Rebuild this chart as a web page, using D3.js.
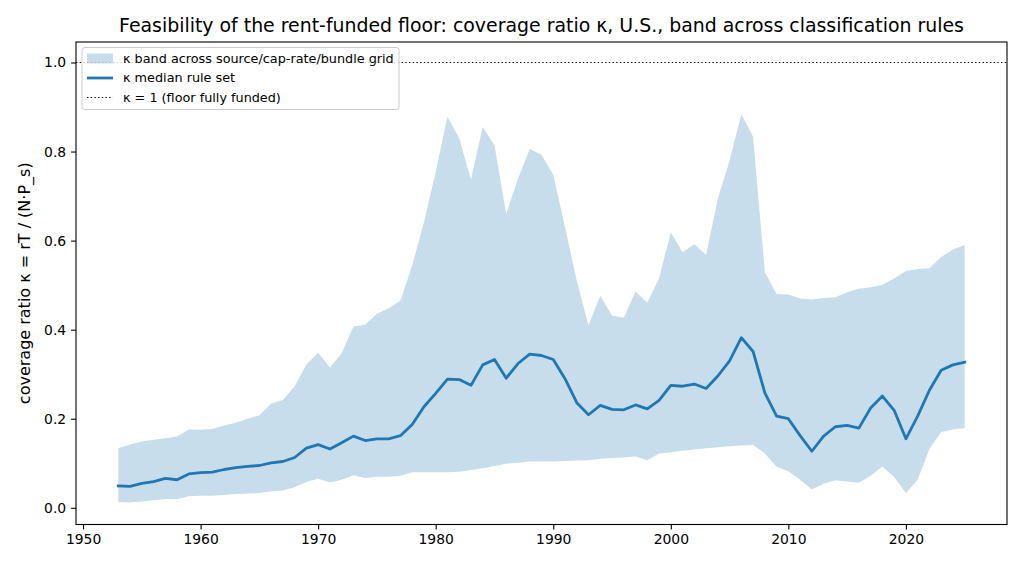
<!DOCTYPE html>
<html>
<head>
<meta charset="utf-8">
<script src="https://cdn.jsdelivr.net/npm/d3@7"></script>
<style>
  body { margin: 0; background: #fff; }
  svg { display: block; font-family: 'DejaVu Sans', sans-serif; }
</style>
</head>
<body>
<div id="chart"></div>
<script>
// years 1953..2025
const years = d3.range(1953, 2026);

const medianK = [
  0.049, 0.048, 0.055, 0.059, 0.066, 0.063, 0.076, 0.079, 0.080, 0.086,
  0.090, 0.093, 0.095, 0.101, 0.104, 0.113, 0.134, 0.142, 0.132, 0.146,
  0.161, 0.151, 0.155, 0.155, 0.162, 0.187, 0.227, 0.257, 0.289, 0.288,
  0.275, 0.321, 0.333, 0.291, 0.324, 0.345, 0.342, 0.333, 0.290, 0.236,
  0.209, 0.230, 0.221, 0.220, 0.231, 0.222, 0.241, 0.275, 0.273, 0.278,
  0.268, 0.296, 0.330, 0.382, 0.351, 0.258, 0.206, 0.200, 0.162, 0.127,
  0.161, 0.182, 0.185, 0.179, 0.224, 0.251, 0.219, 0.155, 0.206, 0.264,
  0.309, 0.321, 0.327
];

const bandHigh = [
  0.134, 0.142, 0.149, 0.153, 0.156, 0.160, 0.176, 0.175, 0.177, 0.185,
  0.191, 0.200, 0.208, 0.234, 0.242, 0.273, 0.322, 0.348, 0.315, 0.347,
  0.407, 0.411, 0.436, 0.448, 0.465, 0.544, 0.641, 0.754, 0.878, 0.830,
  0.737, 0.855, 0.814, 0.660, 0.739, 0.806, 0.793, 0.748, 0.630, 0.510,
  0.410, 0.476, 0.432, 0.427, 0.486, 0.461, 0.515, 0.619, 0.574, 0.592,
  0.568, 0.694, 0.780, 0.884, 0.833, 0.529, 0.480, 0.479, 0.470, 0.468,
  0.471, 0.473, 0.484, 0.492, 0.495, 0.501, 0.515, 0.532, 0.536, 0.538,
  0.563, 0.580, 0.590
];

const bandLow = [
  0.013, 0.012, 0.014, 0.017, 0.020, 0.019, 0.026, 0.027, 0.027, 0.029,
  0.031, 0.032, 0.033, 0.037, 0.039, 0.046, 0.058, 0.065, 0.057, 0.063,
  0.073, 0.067, 0.070, 0.070, 0.072, 0.080, 0.080, 0.080, 0.080, 0.081,
  0.085, 0.089, 0.094, 0.099, 0.101, 0.104, 0.104, 0.104, 0.105, 0.106,
  0.107, 0.110, 0.112, 0.113, 0.115, 0.107, 0.122, 0.125, 0.128, 0.131,
  0.134, 0.136, 0.138, 0.140, 0.141, 0.122, 0.092, 0.082, 0.063, 0.041,
  0.054, 0.062, 0.059, 0.056, 0.072, 0.093, 0.069, 0.033, 0.063, 0.132,
  0.170, 0.176, 0.179
];

const xTicks = [1950, 1960, 1970, 1980, 1990, 2000, 2010, 2020];
const yTicks = [0.0, 0.2, 0.4, 0.6, 0.8, 1.0];
const fullyFunded = 1.0;

const legendLabels = [
  'κ band across source/cap-rate/bundle grid',
  'κ median rule set',
  'κ = 1 (floor fully funded)'
];

const W = 1024, H = 569;
const margin = { top: 42, right: 17, bottom: 44.5, left: 76 };
const width = W - margin.left - margin.right;
const height = H - margin.top - margin.bottom;
const C0 = '#1f77b4';

const rows = years.map((yr, i) => ({ yr, med: medianK[i], lo: bandLow[i], hi: bandHigh[i] }));

const svg = d3.select('#chart').append('svg')
  .attr('width', W).attr('height', H);

const g = svg.append('g').attr('transform', `translate(${margin.left},${margin.top})`);

const x = d3.scaleLinear().domain([1949.4, 2028.6]).range([0, width]);
const y = d3.scaleLinear().domain([-0.0375, 1.046]).range([height, 0]);

g.append('clipPath').attr('id', 'clip')
  .append('rect').attr('width', width).attr('height', height);

const plot = g.append('g').attr('clip-path', 'url(#clip)');

// Band
plot.append('path').datum(rows)
  .attr('fill', C0).attr('fill-opacity', 0.25)
  .attr('d', d3.area().x(d => x(d.yr)).y0(d => y(d.lo)).y1(d => y(d.hi)));

// Median line
plot.append('path').datum(rows)
  .attr('fill', 'none').attr('stroke', C0).attr('stroke-width', 2.8)
  .attr('stroke-linejoin', 'round').attr('stroke-linecap', 'square')
  .attr('d', d3.line().x(d => x(d.yr)).y(d => y(d.med)));

// kappa = 1 reference line
plot.append('line')
  .attr('x1', 0).attr('x2', width)
  .attr('y1', y(fullyFunded)).attr('y2', y(fullyFunded))
  .attr('stroke', '#000').attr('stroke-width', 1.1)
  .attr('stroke-dasharray', '1.4,2.3');

// Axes
const tickStyle = gg => {
  gg.select('.domain').remove();
  gg.selectAll('.tick line').attr('stroke', '#000').attr('stroke-width', 1.1);
  gg.selectAll('.tick text').attr('fill', '#000').attr('font-size', '13.9px')
    .attr('font-family', "'DejaVu Sans', sans-serif");
};

g.append('g').attr('transform', `translate(0,${height})`)
  .call(d3.axisBottom(x).tickValues(xTicks).tickFormat(d3.format('d')).tickSize(4.9).tickPadding(4.9))
  .call(tickStyle);

g.append('g')
  .call(d3.axisLeft(y).tickValues(yTicks).tickFormat(d3.format('.1f')).tickSize(4.9).tickPadding(4.9))
  .call(tickStyle);

// Spines
g.append('rect').attr('width', width).attr('height', height)
  .attr('fill', 'none').attr('stroke', '#000').attr('stroke-width', 1.1);

// Title
svg.append('text')
  .attr('x', margin.left + width / 2).attr('y', 31.5)
  .attr('text-anchor', 'middle').attr('font-size', '18.9px').attr('fill', '#000')
  .text('Feasibility of the rent-funded floor: coverage ratio κ, U.S., band across classification rules');

// Y label
svg.append('text')
  .attr('transform', `translate(30,${margin.top + height / 2}) rotate(-90)`)
  .attr('text-anchor', 'middle').attr('font-size', '16px').attr('fill', '#000')
  .text('coverage ratio κ = rT / (N·P_s)');

// Legend
const lg = svg.append('g').attr('transform', 'translate(82,47.5)');
lg.append('rect')
  .attr('width', 317).attr('height', 62).attr('rx', 3)
  .attr('fill', '#fff').attr('fill-opacity', 0.8)
  .attr('stroke', '#ccc').attr('stroke-width', 1);

legendLabels.forEach((label, i) => {
  const cy = 11 + i * 19.5;
  if (i === 0) {
    lg.append('rect').attr('x', 5).attr('y', cy - 5).attr('width', 26).attr('height', 10)
      .attr('fill', C0).attr('fill-opacity', 0.25);
  } else if (i === 1) {
    lg.append('line').attr('x1', 5).attr('x2', 31).attr('y1', cy).attr('y2', cy)
      .attr('stroke', C0).attr('stroke-width', 2.8);
  } else {
    lg.append('line').attr('x1', 5).attr('x2', 31).attr('y1', cy).attr('y2', cy)
      .attr('stroke', '#000').attr('stroke-width', 1.1).attr('stroke-dasharray', '1.4,2.3');
  }
  lg.append('text').attr('x', 41).attr('y', cy).attr('dy', '0.35em')
    .attr('font-size', '12.8px').attr('fill', '#000').text(label);
});
</script>
</body>
</html>
